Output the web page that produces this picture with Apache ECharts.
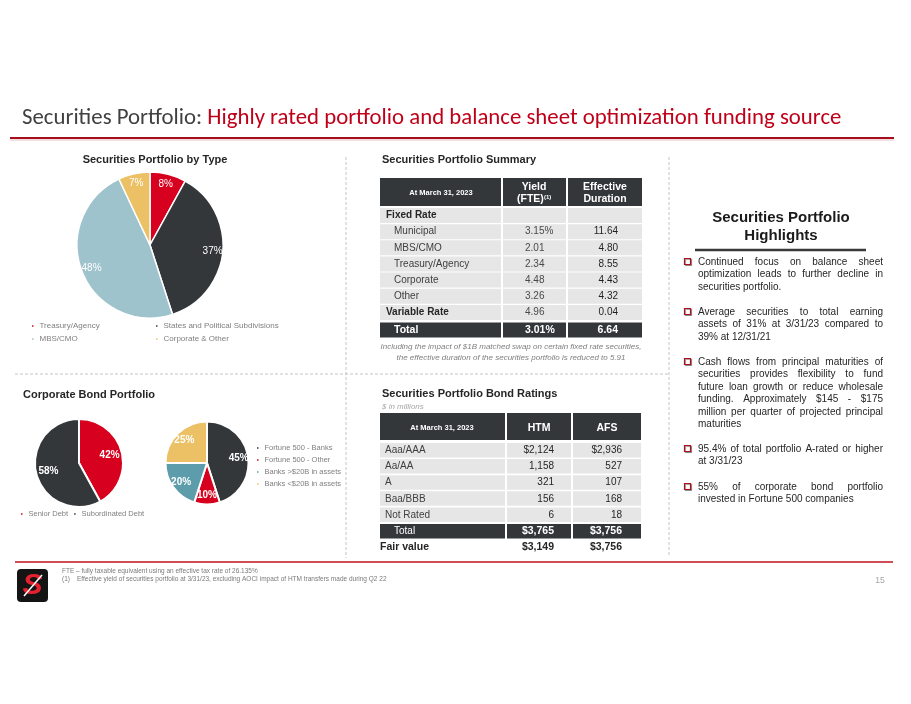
<!DOCTYPE html>
<html>
<head>
<meta charset="utf-8">
<script src="https://cdn.jsdelivr.net/npm/echarts@6/dist/echarts.min.js"></script>
<style>
  html, body { margin: 0; background: #fff; }
  #chart { width: 911px; height: 704px; }
</style>
</head>
<body>
<div id="chart"></div>
<script>
// ---- data ----
var typeNames = ['Treasury/Agency', 'States and Political Subdivisions', 'MBS/CMO', 'Corporate & Other'];
var typeValues = [8, 37, 48, 7];

var debtNames = ['Senior Debt', 'Subordinated Debt'];
var debtValues = [42, 58];

var issuerNames = ['Fortune 500 - Banks', 'Fortune 500 - Other', 'Banks >$20B in assets', 'Banks <$20B in assets'];
var issuerValues = [45, 10, 20, 25];

var summaryLabels = ['Fixed Rate', 'Municipal', 'MBS/CMO', 'Treasury/Agency', 'Corporate', 'Other', 'Variable Rate'];
var summaryGroups = ['Fixed Rate', 'Variable Rate'];
var summaryYield = ['', '3.15%', '2.01', '2.34', '4.48', '3.26', '4.96'];
var summaryDuration = ['', '11.64', '4.80', '8.55', '4.43', '4.32', '0.04'];
var summaryTotal = ['Total', '3.01%', '6.64'];

var ratingLabels = ['Aaa/AAA', 'Aa/AA', 'A', 'Baa/BBB', 'Not Rated'];
var ratingHTM = ['$2,124', '1,158', '321', '156', '6'];
var ratingAFS = ['$2,936', '527', '107', '168', '18'];
var ratingTotal = ['Total', '$3,765', '$3,756'];
var ratingFair = ['Fair value', '$3,149', '$3,756'];

var highlights = [
    ['Continued focus on balance sheet', 'optimization leads to further decline in', 'securities portfolio.'],
    ['Average securities to total earning', 'assets of 31% at 3/31/23 compared to', '39% at 12/31/21'],
    ['Cash flows from principal maturities of', 'securities provides flexibility to fund', 'future loan growth or reduce wholesale',
     'funding. Approximately $145 - $175', 'million per quarter of projected principal', 'maturities'],
    ['95.4% of total portfolio A-rated or higher', 'at 3/31/23'],
    ['55% of corporate bond portfolio', 'invested in Fortune 500 companies']
];

// ---- look ----
var SANS = '"Liberation Sans", Arial, sans-serif';
var TITLE = 'Carlito, Lato, "Open Sans", sans-serif';
var RED = '#d7001e', DARK = '#33373a', BLUE = '#9fc3cd', GOLD = '#ecc064', TEAL = '#5c9cab';
var CELL = '#e6e6e6';

var ctx = document.createElement('canvas').getContext('2d');
function measure(text, font) { ctx.font = font; return ctx.measureText(text).width; }

function T(x, y, text, o) {
    o = o || {};
    var a = o.align || 'left';
    return {
        type: 'text', x: x, y: y, silent: true,
        style: {
            text: text, fill: o.color || '#404040', fontSize: o.size || 10,
            fontWeight: o.weight || 'normal', fontStyle: o.style || 'normal',
            fontFamily: o.family || SANS,
            align: a, textAlign: a, verticalAlign: 'middle', textVerticalAlign: 'middle'
        }
    };
}
function R(x, y, w, h, fill, r) {
    return { type: 'rect', silent: true, shape: { x: x, y: y, width: w, height: h, r: r || 0 }, style: { fill: fill } };
}
function L(x1, y1, x2, y2, stroke, lw, dash) {
    return { type: 'line', silent: true, shape: { x1: x1, y1: y1, x2: x2, y2: y2 },
        style: { stroke: stroke, lineWidth: lw, lineDash: dash || null } };
}

var g = [];

// slide title, sized to span the same width as the original
var t1 = 'Securities Portfolio: ', t2 = 'Highly rated portfolio and balance sheet optimization funding source';
var tSize = 20 * 820 / measure(t1 + t2, '20px ' + TITLE);
g.push(T(22, 118, t1, { size: tSize, family: TITLE, color: '#404040' }));
g.push(T(22 + measure(t1, tSize + 'px ' + TITLE), 118, t2, { size: tSize, family: TITLE, color: '#c00018' }));
g.push(L(10, 138, 894, 138, '#a30f1e', 2));
g.push(L(10, 140, 894, 140, '#f1d3d6', 1.5));

// dotted separators
g.push(L(346, 157, 346, 558, '#c4c4c4', 1, [3, 2]));
g.push(L(669, 157, 669, 555, '#c4c4c4', 1, [3, 2]));
g.push(L(15, 374, 669, 374, '#c4c4c4', 1, [3, 2]));

// section titles
g.push(T(155, 160, 'Securities Portfolio by Type', { size: 11, weight: 'bold', color: '#262626', align: 'center' }));
g.push(T(23, 395, 'Corporate Bond Portfolio', { size: 11, weight: 'bold', color: '#262626' }));
g.push(T(382, 160, 'Securities Portfolio Summary', { size: 11, weight: 'bold', color: '#262626' }));
g.push(T(382, 394, 'Securities Portfolio Bond Ratings', { size: 11, weight: 'bold', color: '#262626' }));
g.push(T(382, 407, '$ in millions', { size: 8, style: 'italic', color: '#a6a6a6' }));

// ---- summary table ----
(function () {
    var cols = [[380, 121], [503, 63], [568, 74]];
    cols.forEach(function (c) { g.push(R(c[0], 178, c[1], 28, DARK)); });
    g.push(T(441, 193, 'At March 31, 2023', { size: 7.5, weight: 'bold', color: '#fff', align: 'center' }));
    g.push(T(534, 187, 'Yield', { size: 10.5, weight: 'bold', color: '#fff', align: 'center' }));
    g.push(T(517, 199, '(FTE)', { size: 10.5, weight: 'bold', color: '#fff' }));
    g.push(T(544, 197, '(1)', { size: 6, weight: 'bold', color: '#fff' }));
    g.push(T(605, 187, 'Effective', { size: 10.5, weight: 'bold', color: '#fff', align: 'center' }));
    g.push(T(605, 199, 'Duration', { size: 10.5, weight: 'bold', color: '#fff', align: 'center' }));
    summaryLabels.forEach(function (lab, i) {
        var y = 208 + i * 16.15;
        cols.forEach(function (c) { g.push(R(c[0], y, c[1], 15, CELL)); });
        var grp = summaryGroups.indexOf(lab) >= 0;
        g.push(T(grp ? 386 : 394, y + 7.5, lab, { size: 10, weight: grp ? 'bold' : 'normal', color: grp ? '#262626' : '#404040' }));
        g.push(T(525, y + 7.5, summaryYield[i], { size: 10, color: '#4a4a4a' }));
        g.push(T(618, y + 7.5, summaryDuration[i], { size: 10, color: '#1f1f1f', align: 'right' }));
    });
    var ty = 322.5;
    cols.forEach(function (c) { g.push(R(c[0], ty, c[1], 15, DARK)); });
    g.push(T(394, ty + 7.5, summaryTotal[0], { size: 10.5, weight: 'bold', color: '#fff' }));
    g.push(T(525, ty + 7.5, summaryTotal[1], { size: 10.5, weight: 'bold', color: '#fff' }));
    g.push(T(618, ty + 7.5, summaryTotal[2], { size: 10.5, weight: 'bold', color: '#fff', align: 'right' }));
    g.push(T(511, 347, 'Including the impact of $1B matched swap on certain fixed rate securities,', { size: 8, style: 'italic', color: '#7f7f7f', align: 'center' }));
    g.push(T(511, 358, 'the effective duration of the securities portfolio is reduced to 5.91', { size: 8, style: 'italic', color: '#7f7f7f', align: 'center' }));
})();

// ---- ratings table ----
(function () {
    var cols = [[380, 125], [507, 64], [573, 68]];
    cols.forEach(function (c) { g.push(R(c[0], 413, c[1], 27, DARK)); });
    g.push(T(442, 428, 'At March 31, 2023', { size: 7.5, weight: 'bold', color: '#fff', align: 'center' }));
    g.push(T(539, 428, 'HTM', { size: 10.5, weight: 'bold', color: '#fff', align: 'center' }));
    g.push(T(607, 428, 'AFS', { size: 10.5, weight: 'bold', color: '#fff', align: 'center' }));
    ratingLabels.forEach(function (lab, i) {
        var y = 443 + i * 16.1;
        cols.forEach(function (c) { g.push(R(c[0], y, c[1], 14.5, CELL)); });
        g.push(T(385, y + 7.5, lab, { size: 10, color: '#404040' }));
        g.push(T(554, y + 7.5, ratingHTM[i], { size: 10, color: '#262626', align: 'right' }));
        g.push(T(622, y + 7.5, ratingAFS[i], { size: 10, color: '#262626', align: 'right' }));
    });
    cols.forEach(function (c) { g.push(R(c[0], 524, c[1], 14.5, DARK)); });
    g.push(T(394, 531.5, ratingTotal[0], { size: 10, color: '#fff' }));
    g.push(T(554, 531.5, ratingTotal[1], { size: 10.5, weight: 'bold', color: '#fff', align: 'right' }));
    g.push(T(622, 531.5, ratingTotal[2], { size: 10.5, weight: 'bold', color: '#fff', align: 'right' }));
    g.push(T(380, 547, ratingFair[0], { size: 10.5, weight: 'bold', color: '#262626' }));
    g.push(T(554, 547, ratingFair[1], { size: 10.5, weight: 'bold', color: '#262626', align: 'right' }));
    g.push(T(622, 547, ratingFair[2], { size: 10.5, weight: 'bold', color: '#262626', align: 'right' }));
})();

// ---- highlights box ----
g.push(T(781, 218, 'Securities Portfolio', { size: 15, weight: 'bold', color: '#1a1a1a', align: 'center' }));
g.push(T(781, 236, 'Highlights', { size: 15, weight: 'bold', color: '#1a1a1a', align: 'center' }));
g.push(L(695, 250, 866, 250, '#3a3a3a', 2.5));
(function () {
    var starts = [262, 312, 362, 449, 487];
    var x0 = 698, width = 185, lh = 12.5, size = 10;
    var font = size + 'px ' + SANS;
    highlights.forEach(function (lines, p) {
        var y0 = starts[p];
        g.push({ type: 'rect', silent: true, shape: { x: 684.5, y: y0 - 3.5, width: 6, height: 6 },
            style: { fill: '#fff', stroke: '#b0101e', lineWidth: 1.2, shadowColor: 'rgba(0,0,0,0.35)', shadowOffsetX: 1, shadowOffsetY: 1 } });
        lines.forEach(function (line, i) {
            var y = y0 + i * lh;
            if (i === lines.length - 1) { g.push(T(x0, y, line, { size: size, color: '#262626' })); return; }
            var words = line.split(' ');
            var ws = words.map(function (w) { return measure(w, font); });
            var sum = ws.reduce(function (a, b) { return a + b; }, 0);
            var gap = (width - sum) / (words.length - 1);
            var cx = x0;
            words.forEach(function (w, k) { g.push(T(cx, y, w, { size: size, color: '#262626' })); cx += ws[k] + gap; });
        });
    });
})();

// ---- footer ----
g.push(L(15, 562, 893, 562, '#c0121f', 1.5));
g.push(R(17, 569, 31, 33, '#141414', 4));
g.push(T(32.5, 585.5, 'S', { size: 30, weight: 'bold', style: 'italic', color: '#e3212f', align: 'center' }));
g.push(L(24, 596, 42, 575, '#fff', 1.5));
g.push(T(62, 571, 'FTE \u2013 fully taxable equivalent using an effective tax rate of 26.135%', { size: 6.5, color: '#7a7a7a' }));
g.push(T(62, 579, '(1)', { size: 6.5, color: '#7a7a7a' }));
g.push(T(77, 579, 'Effective yield of securities portfolio at 3/31/23, excluding AOCI impact of HTM transfers made during Q2 22', { size: 6.5, color: '#7a7a7a' }));
g.push(T(880, 581, '15', { size: 8.5, color: '#a6a6a6', align: 'center' }));

// ---- pies ----
function pie(names, values, colors, cx, cy, r, border) {
    return {
        type: 'pie', center: [cx, cy], radius: r, startAngle: 90, clockwise: true, silent: true,
        label: { show: false }, labelLine: { show: false }, emphasis: { disabled: true },
        itemStyle: { borderColor: '#fff', borderWidth: border },
        data: names.map(function (n, i) { return { name: n, value: values[i], itemStyle: { color: colors[i] } }; })
    };
}
// transparent ring that only carries the % labels, so they sit further out than half radius
function pieLabels(values, cx, cy, r, inner, weight) {
    return {
        type: 'pie', center: [cx, cy], radius: [r * inner, r], startAngle: 90, clockwise: true, silent: true,
        itemStyle: { color: 'transparent', borderWidth: 0 }, emphasis: { disabled: true }, labelLine: { show: false },
        label: { show: true, position: 'inside', formatter: '{c}%', color: '#fff', fontSize: 10, fontWeight: weight, fontFamily: SANS },
        data: values.map(function (v) { return { value: v }; })
    };
}
function legend(names, left, top, size, orient, gap) {
    return {
        data: names, left: left, top: top, orient: orient || 'horizontal', itemGap: gap || 0, padding: 0,
        icon: 'rect', itemWidth: 3.5, itemHeight: 3.5, selectedMode: false,
        textStyle: { fontSize: size, color: '#808080', fontFamily: SANS }
    };
}

var chart = echarts.init(document.getElementById('chart'), null, { renderer: 'canvas' });
chart.setOption({
    animation: false,
    backgroundColor: '#fff',
    legend: [
        legend([typeNames[0]], 30, 322, 8),
        legend([typeNames[1]], 154, 322, 8),
        legend([typeNames[2]], 30, 335, 8),
        legend([typeNames[3]], 154, 335, 8),
        legend(debtNames, 19, 510, 7.5, 'horizontal', 4),
        legend(issuerNames, 255, 444, 7.5, 'vertical', 4)
    ],
    series: [
        pie(typeNames, typeValues, [RED, DARK, BLUE, GOLD], 150, 245, 73, 1.5),
        pie(debtNames, debtValues, [RED, DARK], 79, 463, 44, 2),
        pie(issuerNames, issuerValues, [DARK, RED, TEAL, GOLD], 207, 463, 41.5, 2),
        pieLabels(typeValues, 150, 245, 73, 0.64, 'normal'),
        pieLabels(debtValues, 79, 463, 44, 0.3, 'bold'),
        pieLabels(issuerValues, 207, 463, 41.5, 0.4, 'bold')
    ],
    graphic: { elements: g }
});
</script>
</body>
</html>
